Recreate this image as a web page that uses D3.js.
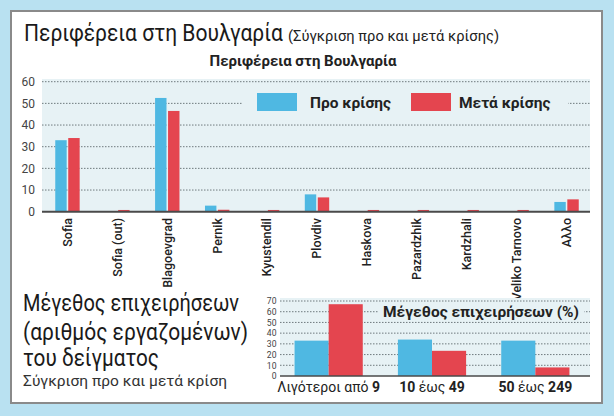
<!DOCTYPE html>
<html><head><meta charset="utf-8">
<script src="https://cdn.jsdelivr.net/npm/d3@7"></script>
<style>
html,body{margin:0;padding:0;background:#b9e1f1;}
svg{display:block;font-family:Roboto,"Noto Sans",sans-serif;}
</style></head>
<body>
<svg id="c" width="614" height="416"></svg>
<script>
// ---- data ----
const regions = ["Sofia","Sofia (out)","Blagoevgrad","Pernik","Kyustendil","Plovdiv","Haskova","Pazardzhik","Kardzhali","Veliko Tarnovo","Αλλο"];
const preCrisis  = [33, 0, 52.5, 2.8, 0, 8, 0, 0, 0, 0, 4.5];
const postCrisis = [34, 0.8, 46.5, 0.9, 0.8, 6.6, 0.8, 0.8, 0.8, 0.8, 5.7];
const topTicks = [0,10,20,30,40,50,60];
const seriesNames = ["Προ κρίσης","Μετά κρίσης"];

const sizeCats = [["Λιγότεροι από ","9"],["10"," έως ","49"],["50"," έως ","249"]];
const sizeBold = [[false,true],[true,false,true],[true,false,true]];
const sizePre  = [33, 34, 33];
const sizePost = [67, 23.5, 8];
const bottomTicks = [0,10,20,30,40,50,60,70];

const BLUE = "#4fb8e2", RED = "#e4454f", BG = "#e7f2f5", GRID = "#6f7a7e", AXIS = "#4a4a4a";

const svg = d3.select("#c");
svg.append("rect").attr("x",0).attr("y",0).attr("width",614).attr("height",416).attr("fill","#b9e1f1");
svg.append("rect").attr("x",11).attr("y",11).attr("width",591).attr("height",392)
  .attr("fill","#fff").attr("stroke","#8a8a8a").attr("stroke-width",2);

// titles
svg.append("text").attr("x",24).attr("y",41).attr("font-size",23).attr("fill","#1a1a1a")
  .attr("textLength",259).attr("lengthAdjust","spacingAndGlyphs").text("Περιφέρεια στη Βουλγαρία");
svg.append("text").attr("x",288).attr("y",41).attr("font-size",15).attr("fill","#222")
  .attr("textLength",211).attr("lengthAdjust","spacingAndGlyphs").text("(Σύγκριση προ και μετά κρίσης)");
svg.append("text").attr("x",303).attr("y",66).attr("font-size",15).attr("font-weight",700)
  .attr("text-anchor","middle").attr("fill","#222").text("Περιφέρεια στη Βουλγαρία");

// ---- top chart ----
const y1 = d3.scaleLinear().domain([0,60]).range([211.7,81.7]);
const x1 = d3.scaleBand().domain(regions).range([42.5,591.5]);
const s1 = d3.scaleBand().domain(seriesNames).range([-12.2,12.2]).paddingInner(0.12);
const gTop = svg.append("g");
gTop.append("rect").attr("x",42).attr("y",79).attr("width",548).attr("height",y1(0)-79).attr("fill",BG);
gTop.append("g").selectAll("line").data(topTicks.filter(d=>d>0)).join("line")
  .attr("x1",42).attr("x2",590).attr("y1",d=>y1(d)).attr("y2",d=>y1(d))
  .attr("stroke",GRID).attr("stroke-width",1).attr("stroke-dasharray","1.5 1.5");
const yAx1 = d3.axisLeft(y1).tickValues(topTicks).tickSize(0).tickPadding(0);
const ya1 = gTop.append("g").attr("transform","translate(35,0)").call(yAx1);
ya1.select(".domain").remove();
ya1.selectAll("text").attr("font-size",12).attr("fill","#444").attr("font-family","Roboto");

// legend (background covers gridline)
gTop.append("rect").attr("x",243).attr("y",89).attr("width",325).attr("height",27).attr("fill",BG);
const leg = gTop.append("g");
const legX = [257, 411], legTX = [310, 459];
seriesNames.forEach((n,i)=>{
  leg.append("rect").attr("x",legX[i]).attr("y",93).attr("width",40).attr("height",18).attr("fill",i?RED:BLUE);
  leg.append("text").attr("x",legTX[i]).attr("y",107.5).attr("font-size",15.5).attr("font-weight",700)
    .attr("fill","#222").text(n);
});

const groups1 = gTop.append("g").selectAll("g").data(regions).join("g")
  .attr("transform",d=>`translate(${x1(d)+x1.bandwidth()/2},0)`);
groups1.selectAll("rect").data((d,i)=>[{s:seriesNames[0],v:preCrisis[i]},{s:seriesNames[1],v:postCrisis[i]}])
  .join("rect").attr("x",d=>s1(d.s)).attr("width",s1.bandwidth())
  .attr("y",d=>y1(d.v)).attr("height",d=>y1(0)-y1(d.v))
  .attr("fill",d=>d.s===seriesNames[0]?BLUE:RED);
gTop.append("line").attr("x1",42).attr("x2",590).attr("y1",y1(0)).attr("y2",y1(0))
  .attr("stroke",AXIS).attr("stroke-width",2);
gTop.append("g").selectAll("text").data(regions).join("text")
  .attr("transform",d=>`translate(${x1(d)+x1.bandwidth()/2},218) rotate(-90)`)
  .attr("text-anchor","end").attr("dy","0.35em").attr("font-size",12.5).attr("font-weight",500)
  .attr("fill","#222").text(d=>d);

// ---- bottom left text ----
const bl = [
  {t:"Μέγεθος επιχειρήσεων", y:311, s:23, w:216},
  {t:"(αριθμός εργαζομένων)", y:340, s:23, w:225},
  {t:"του δείγματος", y:366, s:23, w:136},
  {t:"Σύγκριση προ και μετά κρίση", y:386, s:15, w:204}
];
bl.forEach(d=>{
  svg.append("text").attr("x",23).attr("y",d.y).attr("font-size",d.s).attr("fill",d.s>20?"#1a1a1a":"#333")
    .attr("textLength",d.w).attr("lengthAdjust","spacingAndGlyphs").text(d.t);
});

// ---- bottom chart ----
const y2 = d3.scaleLinear().domain([0,70]).range([376,301]);
const x2 = d3.scaleBand().domain(d3.range(sizeCats.length)).range([277,587]).paddingInner(0.34).paddingOuter(0.17);
const s2 = d3.scaleBand().domain(seriesNames).range([0,x2.bandwidth()]);
const bot = svg.append("g");
bot.append("rect").attr("x",280).attr("y",298).attr("width",310).attr("height",y2(0)-298).attr("fill",BG);
bot.append("g").selectAll("line").data(bottomTicks.filter(d=>d>0)).join("line")
  .attr("x1",280).attr("x2",590).attr("y1",d=>y2(d)).attr("y2",d=>y2(d))
  .attr("stroke",GRID).attr("stroke-width",1).attr("stroke-dasharray","1.5 1.5");
const ya2 = bot.append("g").attr("transform","translate(276.5,0)")
  .call(d3.axisLeft(y2).tickValues(bottomTicks).tickSize(0).tickPadding(0));
ya2.select(".domain").remove();
ya2.selectAll("text").attr("font-size",8.6).attr("fill","#444").attr("font-family","Roboto");

bot.append("rect").attr("x",378).attr("y",304).attr("width",206).attr("height",16).attr("fill",BG);
bot.append("text").attr("x",481).attr("y",316.5).attr("text-anchor","middle").attr("font-size",15.5)
  .attr("font-weight",700).attr("fill","#222").attr("textLength",196).attr("lengthAdjust","spacingAndGlyphs")
  .text("Μέγεθος επιχειρήσεων (%)");

const groups2 = bot.append("g").selectAll("g").data(d3.range(sizeCats.length)).join("g")
  .attr("transform",d=>`translate(${x2(d)},0)`);
groups2.selectAll("rect").data(i=>[{s:seriesNames[0],v:sizePre[i]},{s:seriesNames[1],v:sizePost[i]}])
  .join("rect").attr("x",d=>s2(d.s)).attr("width",s2.bandwidth())
  .attr("y",d=>y2(d.v)).attr("height",d=>y2(0)-y2(d.v))
  .attr("fill",d=>d.s===seriesNames[0]?BLUE:RED);
bot.append("line").attr("x1",280).attr("x2",590).attr("y1",y2(0)).attr("y2",y2(0))
  .attr("stroke",AXIS).attr("stroke-width",1.5);
const lab2 = bot.append("g").selectAll("text").data(d3.range(sizeCats.length)).join("text")
  .attr("x",d=>x2(d)+x2.bandwidth()/2).attr("y",392).attr("text-anchor","middle")
  .attr("font-size",14).attr("fill","#222");
lab2.each(function(i){
  const t = d3.select(this);
  sizeCats[i].forEach((p,j)=>{
    t.append("tspan").attr("font-weight",sizeBold[i][j]?700:400).text(p);
  });
});
</script>
</body></html>
